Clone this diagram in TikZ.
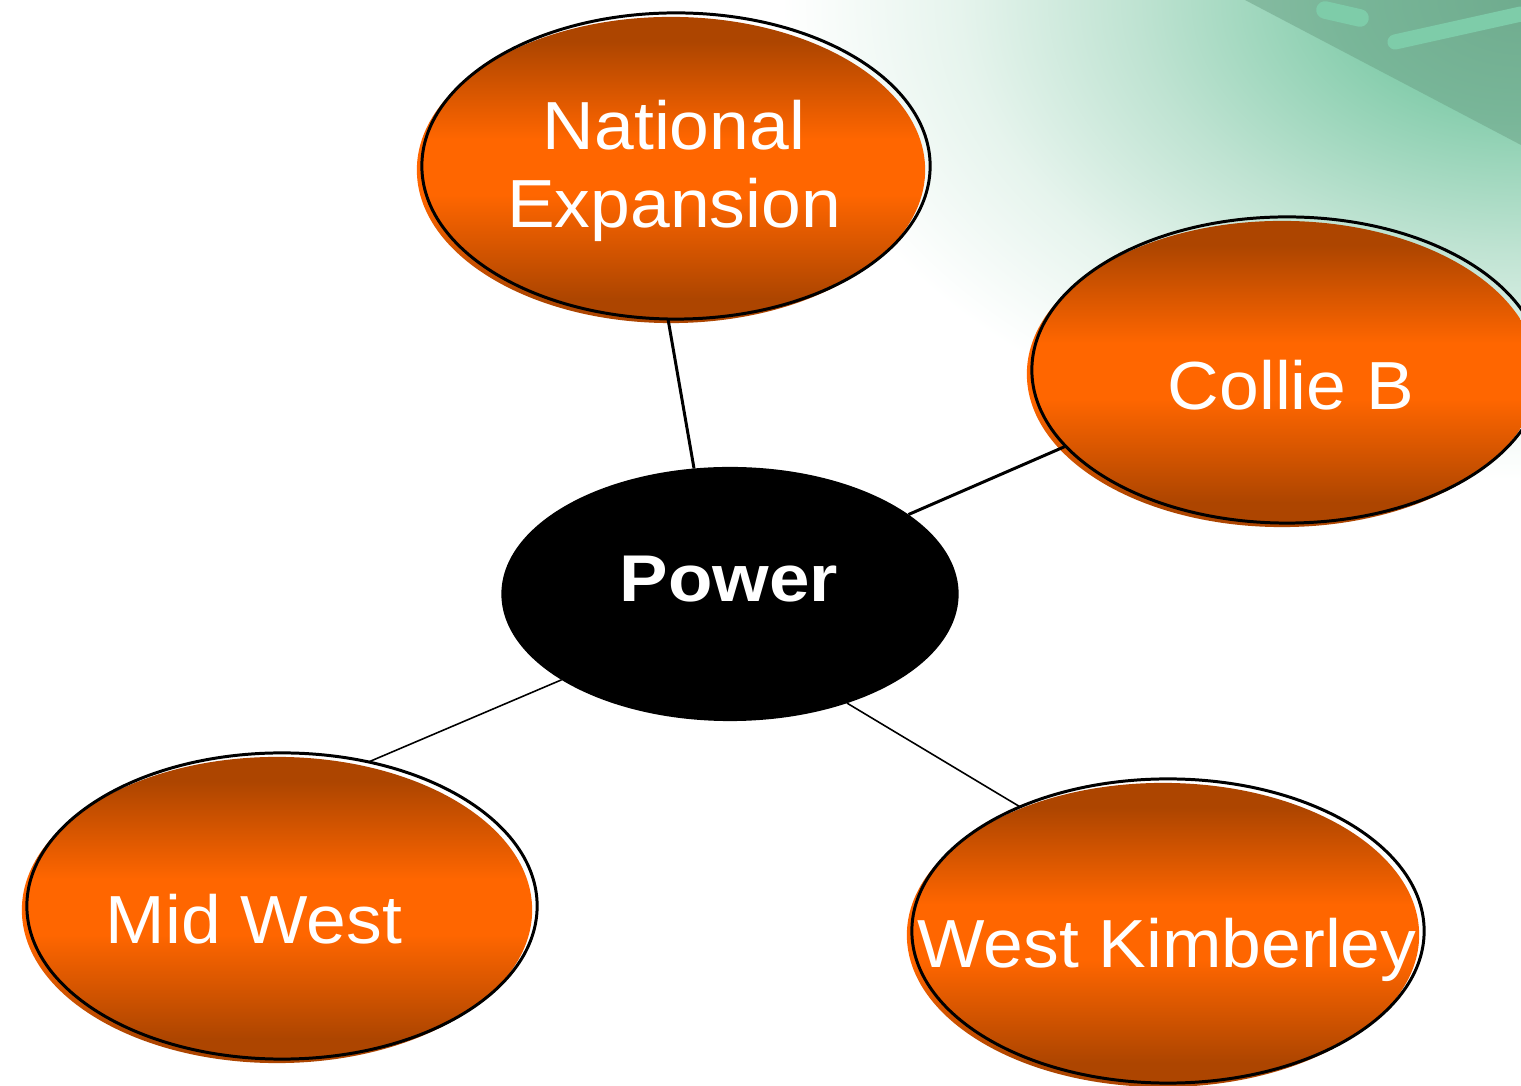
\documentclass[tikz,border=0pt]{standalone}
\usepackage{fontspec}
\setmainfont{Liberation Sans}
\newfontfamily\labfont[FakeStretch=1.05]{Liberation Sans}
\newfontfamily\powfont[FakeStretch=1.1]{Liberation Sans}
\usetikzlibrary{shapes.geometric}
\definecolor{odark}{HTML}{AD4500}
\definecolor{obright}{HTML}{FF6600}
\definecolor{gA}{HTML}{76BA9A}
\definecolor{gB}{HTML}{88CEAE}
\definecolor{gC}{HTML}{BFE3D2}
\definecolor{gD}{HTML}{E6F4ED}
\definecolor{gband}{HTML}{6A9F84}
\definecolor{gstreak}{HTML}{7ECCA9}
\pgfdeclareverticalshading{orangeband}{100bp}{color(0bp)=(odark); color(29bp)=(odark); color(46bp)=(obright); color(55bp)=(obright); color(71bp)=(odark); color(100bp)=(odark)}
\pgfdeclareradialshading{greenglow}{\pgfpointorigin}{color(0bp)=(gA); color(6bp)=(gB); color(13bp)=(gC); color(19bp)=(gD); color(25bp)=(white); color(50bp)=(white)}
\begin{document}
\begin{tikzpicture}[x=0.01cm,y=-0.01cm,
  bubble/.style={ellipse, draw=black, line width=0.85pt, inner sep=0pt, outer sep=0pt,
    preaction={transform canvas={shift={(-0.05cm,-0.04cm)}}, shading=orangeband}},
  hub/.style={ellipse, fill=black, inner sep=0pt, outer sep=0pt},
  lab/.style={text=white, inner sep=0pt, font=\labfont\fontsize{19.35}{22.2}\selectfont},
  hublab/.style={text=white, inner sep=0pt, font=\powfont\bfseries\fontsize{18.8}{22}\selectfont},
  thickline/.style={line width=0.85pt},
  thinline/.style={line width=0.45pt}]
% background
\fill[white] (0,0) rectangle (1521,1086);
\useasboundingbox (0,0) rectangle (1521,1086);
\begin{scope}
  \clip (0,0) rectangle (1521,1086);
  \shade[shading=greenglow] (1521,0) ellipse [x radius=740, y radius=480];
  \fill[gband, opacity=0.5] (1245,0) -- (1521,0) -- (1521,145) -- cycle;
  \draw[gstreak, line width=4.3pt, line cap=round] (1395,42) -- (1521,14);
  \draw[gstreak, line width=5pt, line cap=round] (1325,10) -- (1360,18);
\end{scope}
% nodes
\node[bubble, minimum width=5.08cm, minimum height=3.06cm] (ne) at (676,166) {};
\node[bubble, minimum width=5.10cm, minimum height=3.06cm] (cb) at (1287,370) {};
\node[bubble, minimum width=5.10cm, minimum height=3.06cm] (mw) at (282,906) {};
\node[bubble, minimum width=5.12cm, minimum height=3.04cm] (wk) at (1168,931) {};
\node[hub, minimum width=4.57cm, minimum height=2.54cm] (pw) at (730,594) {};
% labels
\node[lab, align=center] (tne) at (674,171) {National\\Expansion};
\node[lab, anchor=base] (tcb) at (1291,410) {Collie B};
\node[lab, anchor=base] (tmw) at (254,944) {Mid West};
\node[lab, anchor=base] (twk) at (1167,968) {West Kimberley};
\node[hublab, anchor=base] (tpw) at (729,602) {Power};
% connectors
\draw[thickline] (ne.-93) -- (pw.106);
\draw[thickline] (cb.199) -- (pw.24);
\draw[thinline] (mw.59) -- (pw.207);
\draw[thinline] (wk.140) -- (pw.-43);
\end{tikzpicture}
\end{document}
